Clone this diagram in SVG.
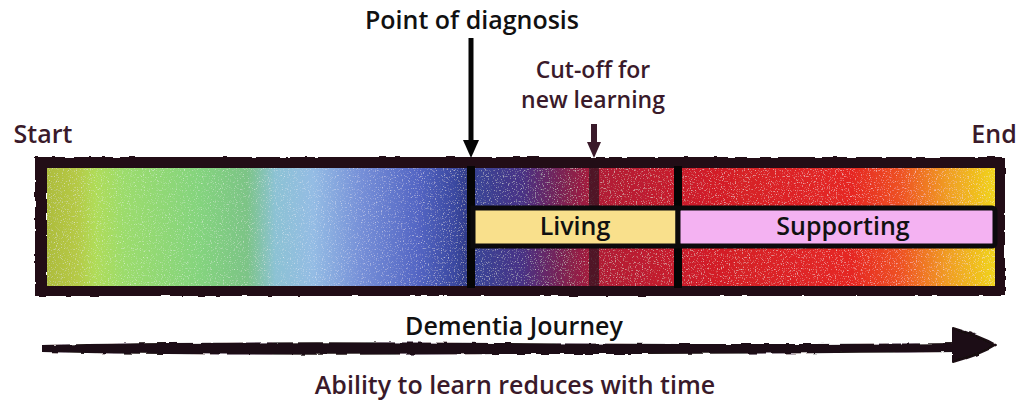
<svg xmlns="http://www.w3.org/2000/svg" width="1022" height="412" viewBox="0 0 1022 412">
<style>
.t{font-family:"Open Sans","Liberation Sans",sans-serif;font-weight:600;}
.lab{font-size:25px;fill:#111;text-anchor:middle;}
.sm{font-size:23px;}
.mar{fill:#3a1a2a;}
.box{stroke:#0c0a0c;stroke-width:5;}
.div{stroke:#050505;stroke-width:8;}
</style>
<defs>
<linearGradient id="spec" x1="48" y1="0" x2="995" y2="0" gradientUnits="userSpaceOnUse">
<stop offset="0" stop-color="#aebd3c"/>
<stop offset="0.03" stop-color="#b5c945"/>
<stop offset="0.05" stop-color="#b0dc58"/>
<stop offset="0.08" stop-color="#9cdc6c"/>
<stop offset="0.16" stop-color="#84d47e"/>
<stop offset="0.21" stop-color="#7cc486"/>
<stop offset="0.24" stop-color="#8cc2d4"/>
<stop offset="0.28" stop-color="#94bce4"/>
<stop offset="0.33" stop-color="#7690d8"/>
<stop offset="0.39" stop-color="#5466c4"/>
<stop offset="0.43" stop-color="#3a48a0"/>
<stop offset="0.445" stop-color="#2e3884"/>
<stop offset="0.455" stop-color="#3a4496"/>
<stop offset="0.5" stop-color="#483286"/>
<stop offset="0.54" stop-color="#782256"/>
<stop offset="0.58" stop-color="#b01c36"/>
<stop offset="0.7" stop-color="#d21e28"/>
<stop offset="0.85" stop-color="#e62824"/>
<stop offset="0.9" stop-color="#ee5222"/>
<stop offset="0.95" stop-color="#f09e22"/>
<stop offset="1" stop-color="#f0d41c"/>
</linearGradient>
<filter id="grain" x="0" y="0" width="1" height="1">
<feTurbulence type="fractalNoise" baseFrequency="0.85" numOctaves="2" seed="3" result="n"/>
<feColorMatrix in="n" type="matrix" values="0 0 0 0 1  0 0 0 0 1  0 0 0 0 1  3 0 0 0 -1.75" result="w"/>
<feComponentTransfer in="w" result="w2"><feFuncA type="linear" slope="0.5"/></feComponentTransfer>
<feComposite in="w2" in2="SourceGraphic" operator="in" result="wc"/>
<feMerge><feMergeNode in="SourceGraphic"/><feMergeNode in="wc"/></feMerge>
</filter>
<filter id="rough" x="-2%" y="-10%" width="104%" height="120%">
<feTurbulence type="fractalNoise" baseFrequency="0.08" numOctaves="2" seed="5" result="t"/>
<feDisplacementMap in="SourceGraphic" in2="t" scale="3" xChannelSelector="R" yChannelSelector="G"/>
</filter>
</defs>
<rect width="1022" height="412" fill="#ffffff"/>

<g id="bar">
<rect x="41" y="163" width="958" height="127" fill="none" stroke="#201018" stroke-width="12" filter="url(#rough)"/>
<rect x="47" y="168" width="948" height="118" fill="url(#spec)" filter="url(#grain)"/>
</g>

<g id="connectors">
<line x1="594" y1="168" x2="594" y2="286" stroke="#3a1422" stroke-width="10" opacity="0.8"/>
<line class="div" x1="471" y1="166" x2="471" y2="288"/>
<line class="div" x1="678" y1="166" x2="678" y2="288"/>
<line x1="471" y1="38" x2="471" y2="142" stroke="#050505" stroke-width="5"/>
<path d="M463,140 L479,140 L471,158 Z" fill="#050505"/>
<line x1="594" y1="124" x2="594" y2="144" stroke="#3a1a2a" stroke-width="6"/>
<path d="M587,142 L601,142 L594,158 Z" fill="#3a1a2a"/>
<g id="journey-arrow" filter="url(#rough)">
<path d="M42,345 Q200,341 500,343 Q750,345 958,343 L958,352 Q750,354 500,354 Q200,356 42,352 Z" fill="#1a0c12"/>
<path d="M953,328 Q980,336 996,345 Q982,354 953,362 Z" fill="#1a0c12" stroke="#1a0c12" stroke-width="2" stroke-linejoin="round"/>
</g>
</g>

<g id="node-living">
<rect class="box" x="473" y="208" width="205" height="38" fill="#f9e08c"/>
<text class="t lab" x="575" y="235">Living</text>
</g>
<g id="node-supporting">
<rect class="box" x="678" y="208" width="317" height="38" rx="3" fill="#f4b2f2"/>
<text class="t lab" x="843" y="235">Supporting</text>
</g>

<g id="labels">
<text class="t lab" x="472" y="29">Point of diagnosis</text>
<text class="t lab sm mar" x="593" y="78">Cut-off for</text>
<text class="t lab sm mar" x="593" y="108">new learning</text>
<text class="t lab mar" x="43" y="143">Start</text>
<text class="t lab mar" x="994" y="143">End</text>
<text class="t lab" x="514" y="335">Dementia Journey</text>
<text class="t lab mar" x="515" y="394">Ability to learn reduces with time</text>
</g>
</svg>
